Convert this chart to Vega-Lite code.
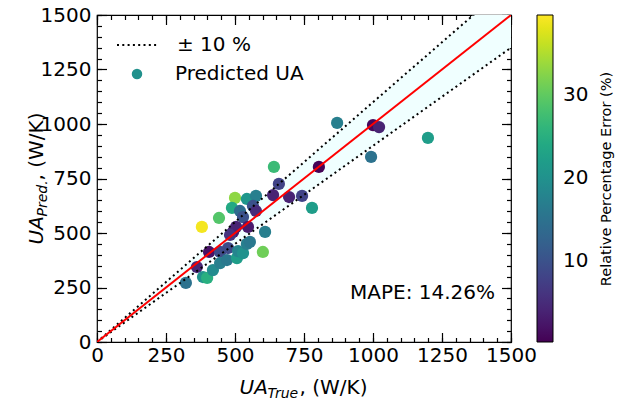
{
  "$schema": "https://vega.github.io/schema/vega-lite/v6.json",
  "width": 414,
  "height": 327,
  "autosize": {"type": "none"},
  "padding": {"left": 97, "top": 15, "right": 114, "bottom": 57},
  "config": {
    "font": "DejaVu Sans",
    "view": {"stroke": "black", "strokeWidth": 1.2},
    "axis": {"grid": false, "domain": false, "tickColor": "black", "tickWidth": 1.2, "labelColor": "black", "labelFont": "DejaVu Sans", "labelFontSize": 20, "titleColor": "black", "titleFont": "DejaVu Sans", "titleFontWeight": "normal"},
    "legend": {"labelFont": "DejaVu Sans", "labelColor": "black", "titleFont": "DejaVu Sans", "titleColor": "black", "titleFontWeight": "normal", "padding": 0}
  },
  "datasets": {
    "pts": [
      {"ua_true": 322, "ua_pred": 271, "err": 15, "series": "Predicted UA"},
      {"ua_true": 362, "ua_pred": 344, "err": 4.5, "series": "Predicted UA"},
      {"ua_true": 384, "ua_pred": 298, "err": 20, "series": "Predicted UA"},
      {"ua_true": 399, "ua_pred": 294, "err": 25, "series": "Predicted UA"},
      {"ua_true": 420, "ua_pred": 330, "err": 19, "series": "Predicted UA"},
      {"ua_true": 406, "ua_pred": 413, "err": 2, "series": "Predicted UA"},
      {"ua_true": 446, "ua_pred": 413, "err": 9, "series": "Predicted UA"},
      {"ua_true": 446, "ua_pred": 362, "err": 17, "series": "Predicted UA"},
      {"ua_true": 471, "ua_pred": 376, "err": 16, "series": "Predicted UA"},
      {"ua_true": 475, "ua_pred": 431, "err": 9, "series": "Predicted UA"},
      {"ua_true": 507, "ua_pred": 385, "err": 22, "series": "Predicted UA"},
      {"ua_true": 511, "ua_pred": 417, "err": 18, "series": "Predicted UA"},
      {"ua_true": 529, "ua_pred": 408, "err": 20, "series": "Predicted UA"},
      {"ua_true": 543, "ua_pred": 450, "err": 17, "series": "Predicted UA"},
      {"ua_true": 554, "ua_pred": 459, "err": 16, "series": "Predicted UA"},
      {"ua_true": 601, "ua_pred": 413, "err": 31, "series": "Predicted UA"},
      {"ua_true": 380, "ua_pred": 528, "err": 39, "series": "Predicted UA"},
      {"ua_true": 442, "ua_pred": 569, "err": 29, "series": "Predicted UA"},
      {"ua_true": 500, "ua_pred": 661, "err": 33, "series": "Predicted UA"},
      {"ua_true": 489, "ua_pred": 615, "err": 24, "series": "Predicted UA"},
      {"ua_true": 543, "ua_pred": 656, "err": 21, "series": "Predicted UA"},
      {"ua_true": 576, "ua_pred": 670, "err": 17, "series": "Predicted UA"},
      {"ua_true": 518, "ua_pred": 601, "err": 14, "series": "Predicted UA"},
      {"ua_true": 529, "ua_pred": 573, "err": 10, "series": "Predicted UA"},
      {"ua_true": 565, "ua_pred": 624, "err": 10, "series": "Predicted UA"},
      {"ua_true": 576, "ua_pred": 601, "err": 5, "series": "Predicted UA"},
      {"ua_true": 493, "ua_pred": 505, "err": 3, "series": "Predicted UA"},
      {"ua_true": 504, "ua_pred": 528, "err": 4, "series": "Predicted UA"},
      {"ua_true": 547, "ua_pred": 528, "err": 3, "series": "Predicted UA"},
      {"ua_true": 609, "ua_pred": 505, "err": 17, "series": "Predicted UA"},
      {"ua_true": 482, "ua_pred": 491, "err": 6, "series": "Predicted UA"},
      {"ua_true": 638, "ua_pred": 674, "err": 4, "series": "Predicted UA"},
      {"ua_true": 641, "ua_pred": 803, "err": 27, "series": "Predicted UA"},
      {"ua_true": 659, "ua_pred": 725, "err": 8, "series": "Predicted UA"},
      {"ua_true": 696, "ua_pred": 665, "err": 4, "series": "Predicted UA"},
      {"ua_true": 743, "ua_pred": 670, "err": 8, "series": "Predicted UA"},
      {"ua_true": 779, "ua_pred": 615, "err": 22, "series": "Predicted UA"},
      {"ua_true": 804, "ua_pred": 803, "err": 0.5, "series": "Predicted UA"},
      {"ua_true": 870, "ua_pred": 1005, "err": 17, "series": "Predicted UA"},
      {"ua_true": 993, "ua_pred": 849, "err": 15, "series": "Predicted UA"},
      {"ua_true": 1000, "ua_pred": 995, "err": 1, "series": "Predicted UA"},
      {"ua_true": 1022, "ua_pred": 986, "err": 4, "series": "Predicted UA"},
      {"ua_true": 1199, "ua_pred": 936, "err": 22, "series": "Predicted UA"}
    ],
    "diag": [
      {"t": 0, "lo": 0, "hi": 0, "mid": 0, "band": "± 10 %"},
      {"t": 1500, "lo": 1350, "hi": 1650, "mid": 1500, "band": "± 10 %"}
    ],
    "note": [
      {"tx": 1442, "ty": 225, "label": "MAPE: 14.26%"}
    ]
  },
  "resolve": {"axis": {"x": "independent", "y": "independent"}},
  "layer": [
    {
      "data": {"name": "diag"},
      "mark": {"type": "area", "color": "#f0ffff", "clip": true},
      "encoding": {
        "x": {"field": "t", "type": "quantitative", "scale": {"domain": [0, 1500], "nice": false, "zero": false},
          "axis": {"orient": "bottom", "values": [0, 250, 500, 750, 1000, 1250, 1500], "format": "d", "ticks": false, "labelPadding": 3, "labelFlush": false, "labelOverlap": false, "labelFontSize": 20,
            "title": "UA", "titleFontStyle": "italic", "titleFontSize": 20, "titleX": 142, "titleY": 51, "titleAlign": "left", "titleBaseline": "alphabetic", "titleAngle": 0}},
        "y": {"field": "lo", "type": "quantitative", "scale": {"domain": [0, 1500], "nice": false, "zero": false},
          "axis": {"orient": "left", "values": [0, 250, 500, 750, 1000, 1250, 1500], "format": "d", "ticks": false, "labelPadding": 6, "labelFlush": false, "labelOverlap": false, "labelFontSize": 20,
            "title": "UA", "titleFontStyle": "italic", "titleFontSize": 20, "titleAngle": 270, "titleX": -55, "titleY": 229, "titleAlign": "left", "titleBaseline": "alphabetic"}},
        "y2": {"field": "hi"}
      }
    },
    {
      "data": {"name": "pts"},
      "mark": {"type": "point", "filled": true, "size": 150, "opacity": 1, "clip": true},
      "encoding": {
        "x": {"field": "ua_true", "type": "quantitative", "scale": {"domain": [0, 1500], "nice": false, "zero": false},
          "axis": {"orient": "bottom", "offset": -9.5, "values": [0, 250, 500, 750, 1000, 1250, 1500], "labels": false, "tickSize": 9.5,
            "title": "True", "titleFontStyle": "italic", "titleFontSize": 14, "titleX": 170, "titleY": 64.5, "titleAlign": "left", "titleBaseline": "alphabetic", "titleAngle": 0}},
        "y": {"field": "ua_pred", "type": "quantitative", "scale": {"domain": [0, 1500], "nice": false, "zero": false},
          "axis": {"orient": "left", "offset": -9.5, "values": [0, 250, 500, 750, 1000, 1250, 1500], "labels": false, "tickSize": 9.5,
            "title": "Pred.", "titleFontStyle": "italic", "titleFontSize": 14, "titleAngle": 270, "titleX": -60.5, "titleY": 201, "titleAlign": "left", "titleBaseline": "alphabetic"}},
        "color": {"field": "err", "type": "quantitative", "scale": {"scheme": "viridis", "domain": [0.2, 39.6]},
          "legend": {"orient": "none", "legendX": 440, "legendY": 0, "direction": "vertical", "gradientLength": 327, "gradientThickness": 16, "gradientStrokeColor": "black", "gradientStrokeWidth": 1,
            "values": [10, 20, 30], "labelFontSize": 20, "labelOffset": 10, "labelOverlap": false, "title": null}},
        "shape": {"field": "series", "type": "nominal", "scale": {"domain": ["Predicted UA"], "range": ["circle"]},
          "legend": {"orient": "none", "legendX": 30, "legendY": 49, "title": null, "labelFontSize": 20, "labelOffset": 28, "symbolSize": 110, "symbolFillColor": "#21918c", "symbolStrokeColor": "#21918c", "symbolStrokeWidth": 0}}
      }
    },
    {
      "data": {"name": "diag"},
      "mark": {"type": "line", "color": "black", "strokeWidth": 2, "strokeCap": "butt", "clip": true},
      "encoding": {
        "x": {"field": "t", "type": "quantitative", "scale": {"domain": [0, 1500], "nice": false, "zero": false},
          "axis": {"orient": "bottom", "offset": -4.5, "values": [0, 50, 100, 150, 200, 250, 300, 350, 400, 450, 500, 550, 600, 650, 700, 750, 800, 850, 900, 950, 1000, 1050, 1100, 1150, 1200, 1250, 1300, 1350, 1400, 1450, 1500], "labels": false, "tickSize": 4.5,
            "title": ", (W/K)", "titleFontSize": 20, "titleX": 202, "titleY": 55.5, "titleAlign": "left", "titleBaseline": "alphabetic", "titleAngle": 0}},
        "y": {"field": "lo", "type": "quantitative", "scale": {"domain": [0, 1500], "nice": false, "zero": false},
          "axis": {"orient": "left", "offset": -4.5, "values": [0, 50, 100, 150, 200, 250, 300, 350, 400, 450, 500, 550, 600, 650, 700, 750, 800, 850, 900, 950, 1000, 1050, 1100, 1150, 1200, 1250, 1300, 1350, 1400, 1450, 1500], "labels": false, "tickSize": 4.5,
            "title": ", (W/K)", "titleFontSize": 20, "titleAngle": 270, "titleX": -59.5, "titleY": 165, "titleAlign": "left", "titleBaseline": "alphabetic"}},
        "strokeDash": {"field": "band", "type": "nominal", "scale": {"domain": ["± 10 %"], "range": [[2, 3.3]]},
          "legend": {"orient": "none", "legendX": 19, "legendY": 9, "title": null, "labelFontSize": 20, "labelOffset": 19, "symbolType": "stroke", "symbolSize": 1600, "symbolStrokeWidth": 2, "symbolStrokeColor": "black"}}
      }
    },
    {
      "data": {"name": "diag"},
      "mark": {"type": "line", "color": "black", "strokeWidth": 2, "strokeCap": "butt", "clip": true},
      "encoding": {
        "x": {"field": "t", "type": "quantitative", "scale": {"domain": [0, 1500], "nice": false, "zero": false},
          "axis": {"orient": "top", "offset": -9.5, "values": [0, 250, 500, 750, 1000, 1250, 1500], "labels": false, "tickSize": 9.5, "title": null}},
        "y": {"field": "hi", "type": "quantitative", "scale": {"domain": [0, 1500], "nice": false, "zero": false},
          "axis": {"orient": "right", "offset": -9.5, "values": [0, 250, 500, 750, 1000, 1250, 1500], "labels": false, "tickSize": 9.5, "title": null}},
        "strokeDash": {"field": "band", "type": "nominal", "scale": {"domain": ["± 10 %"], "range": [[2, 3.3]]}}
      }
    },
    {
      "data": {"name": "diag"},
      "mark": {"type": "line", "color": "#ff0000", "strokeWidth": 2, "clip": true},
      "encoding": {
        "x": {"field": "t", "type": "quantitative", "scale": {"domain": [0, 1500], "nice": false, "zero": false},
          "axis": {"orient": "top", "offset": -4.5, "values": [0, 50, 100, 150, 200, 250, 300, 350, 400, 450, 500, 550, 600, 650, 700, 750, 800, 850, 900, 950, 1000, 1050, 1100, 1150, 1200, 1250, 1300, 1350, 1400, 1450, 1500], "labels": false, "tickSize": 4.5, "title": null}},
        "y": {"field": "mid", "type": "quantitative", "scale": {"domain": [0, 1500], "nice": false, "zero": false},
          "axis": {"orient": "right", "offset": -4.5, "values": [0, 50, 100, 150, 200, 250, 300, 350, 400, 450, 500, 550, 600, 650, 700, 750, 800, 850, 900, 950, 1000, 1050, 1100, 1150, 1200, 1250, 1300, 1350, 1400, 1450, 1500], "labels": false, "tickSize": 4.5,
            "title": "Relative Percentage Error (%)", "titleFontSize": 14.5, "titleAngle": 270, "titleX": 103.5, "titleY": 163.5, "titleAlign": "center", "titleBaseline": "alphabetic", "titleLimit": 400}}
      }
    },
    {
      "data": {"name": "note"},
      "mark": {"type": "text", "align": "right", "baseline": "middle", "fontSize": 20, "font": "DejaVu Sans", "color": "black"},
      "encoding": {
        "x": {"field": "tx", "type": "quantitative", "scale": {"domain": [0, 1500], "nice": false, "zero": false}, "axis": null},
        "y": {"field": "ty", "type": "quantitative", "scale": {"domain": [0, 1500], "nice": false, "zero": false}, "axis": null},
        "text": {"field": "label", "type": "nominal"}
      }
    }
  ]
}
